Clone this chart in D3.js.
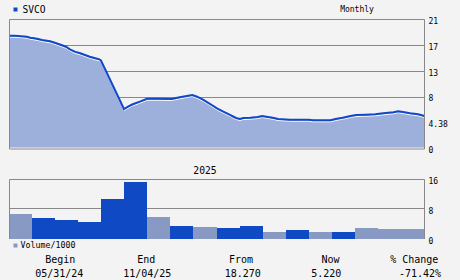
<!DOCTYPE html>
<html><head><meta charset="utf-8">
<script src="https://cdn.jsdelivr.net/npm/d3@7"></script>
<style>
html,body{margin:0;padding:0;background:#f3f3f3;}
svg{display:block;}
text{font-family:"DejaVu Sans Mono",monospace;fill:#000;}
</style></head><body>
<svg id="c" width="460" height="280"></svg>
<script>
// ---- data ----
const symbol = "SVCO";
const priceDates = ["2024-05-31","2024-06-07","2024-06-22","2024-06-26","2024-07-01","2024-07-06","2024-07-11","2024-07-21","2024-07-27","2024-08-05","2024-08-10","2024-08-15","2024-08-21","2024-08-28","2024-09-03","2024-09-09","2024-09-16","2024-09-21","2024-09-23","2024-10-22","2024-10-27","2024-11-02","2024-11-11","2024-11-20","2024-12-04","2024-12-21","2024-12-31","2025-01-09","2025-01-16","2025-01-22","2025-01-30","2025-02-08","2025-02-16","2025-02-24","2025-03-05","2025-03-07","2025-03-12","2025-03-17","2025-03-21","2025-03-30","2025-04-08","2025-04-14","2025-04-19","2025-04-27","2025-05-04","2025-05-19","2025-06-11","2025-06-17","2025-07-09","2025-07-15","2025-07-24","2025-08-03","2025-08-10","2025-08-22","2025-09-03","2025-09-13","2025-09-26","2025-10-02","2025-10-08","2025-10-17","2025-10-27","2025-11-04"];
const prices = [18.36,18.36,18.2,18.04,17.94,17.83,17.66,17.45,17.22,16.8,16.57,16.15,15.76,15.5,15.22,14.94,14.68,14.52,14.33,6.43,6.8,7.2,7.62,8.1,8.1,8.06,8.33,8.55,8.71,8.43,7.9,7.2,6.54,5.99,5.45,5.29,4.97,4.8,4.97,5.01,5.13,5.29,5.18,5.01,4.8,4.69,4.69,4.59,4.59,4.8,5.01,5.29,5.45,5.5,5.57,5.73,5.89,6.06,5.94,5.73,5.57,5.3];
const volMonths = ["May 24","Jun 24","Jul 24","Aug 24","Sep 24","Oct 24","Nov 24","Dec 24","Jan 25","Feb 25","Mar 25","Apr 25","May 25","Jun 25","Jul 25","Aug 25","Sep 25","Oct 25"];
const volumes = [6.65,5.57,5.0,4.5,10.7,15.3,5.85,3.4,3.15,2.9,3.4,1.8,2.35,1.8,1.8,2.9,2.6,2.6];
const volDir = ["down","up","up","up","up","up","down","up","down","up","up","down","up","down","up","down","down","down"];
const priceTicks = [0,4.2,8.4,12.6,16.8,21];
const priceTickLabels = ["0","4.38","8","13","17","21"];
const volTicks = [0,8,16];
const volTickLabels = ["0","8","16"];
const yearLabel = "2025";
const yearMonth = "Jan 25";
const footerHeads = ["Begin","End","From","Now","% Change"];
const footerVals = ["05/31/24","11/04/25","18.270","5.220","-71.42%"];

// ---- layout ----
const svg = d3.select("#c");
const L = 9.5, R = 424.5;
const pTop = 19.5, pBot = 148.5;
const vTop = 179.5, vBot = 238.5;
const parse = d3.timeParse("%Y-%m-%d");
const pts = priceDates.map((d,i)=>({d:parse(d), v:prices[i]}));

const x = d3.scaleTime().domain(d3.extent(pts, p=>p.d)).range([L, R]);
const y = d3.scaleLinear().domain([0,21]).range([pBot, pTop]);
const xb = d3.scaleBand().domain(volMonths).range([9, 424]).padding(0);
const yv = d3.scaleLinear().domain([0,16]).range([239, 179]);

// gridlines price
svg.append("g").selectAll("line").data(priceTicks.filter(t=>t>0&&t<21)).join("line")
  .attr("x1",L).attr("x2",R).attr("y1",d=>Math.round(y(d))+0.5).attr("y2",d=>Math.round(y(d))+0.5)
  .attr("stroke","#888").attr("stroke-width",1);

// area
const area = d3.area().x(p=>x(p.d)).y0(pBot-1).y1(p=>y(p.v));
svg.append("path").datum(pts).attr("d",area).attr("fill","#9db0dc");
const lineW = d3.line().x(p=>x(p.d)).y(p=>y(p.v)+1.5);
svg.append("path").datum(pts).attr("d",lineW).attr("fill","none").attr("stroke","#ffffff").attr("stroke-width",1);
const line = d3.line().x(p=>x(p.d)).y(p=>y(p.v));
svg.append("path").datum(pts).attr("d",line).attr("fill","none").attr("stroke","#1048c8").attr("stroke-width",2);

// price frame
svg.append("path").attr("d",`M${L},${pBot+0.5}V${pTop}H${R}V${pBot+0.5}H${L}`)
  .attr("fill","none").attr("stroke","#888").attr("stroke-width",1);

// price axis labels
const pa = d3.axisRight(y).tickValues(priceTicks).tickSize(0).tickPadding(4)
  .tickFormat((d,i)=>priceTickLabels[i]);
svg.append("g").attr("transform",`translate(${R},1.5)`).call(pa)
  .call(g=>g.select(".domain").remove())
  .selectAll("text").style("font-family","DejaVu Sans Mono").style("font-size","8px").attr("fill","#000");

// titles
svg.append("rect").attr("x",13.5).attr("y",7.5).attr("width",4).attr("height",4).attr("fill","#1048c8");
svg.append("text").attr("x",22.5).attr("y",13).style("font-size","9.6px").text(symbol);
svg.append("text").attr("x",357).attr("y",12).attr("text-anchor","middle").style("font-size","8px").text("Monthly");

// volume gridline
svg.append("g").selectAll("line").data(volTicks.filter(t=>t>0&&t<16)).join("line")
  .attr("x1",L).attr("x2",R).attr("y1",d=>Math.round(yv(d))-0.5).attr("y2",d=>Math.round(yv(d))-0.5)
  .attr("stroke","#888");

// volume bars
svg.append("g").attr("shape-rendering","crispEdges").selectAll("rect").data(volumes).join("rect")
  .attr("x",(d,i)=>Math.round(xb(volMonths[i])))
  .attr("width",(d,i)=>Math.round(xb(volMonths[i])+xb.bandwidth())-Math.round(xb(volMonths[i])))
  .attr("y",d=>Math.round(yv(d))).attr("height",d=>239-Math.round(yv(d)))
  .attr("fill",(d,i)=>volDir[i]==="up"?"#1049c4":"#8899c4");

// volume frame
svg.append("path").attr("d",`M${L},${vBot+0.5}V${vTop}H${R}V${vBot+0.5}`)
  .attr("fill","none").attr("stroke","#888").attr("stroke-width",1);

const va = d3.axisRight(yv).tickValues(volTicks).tickSize(0).tickPadding(4)
  .tickFormat((d,i)=>volTickLabels[i]);
svg.append("g").attr("transform",`translate(${R},1.5)`).call(va)
  .call(g=>g.select(".domain").remove())
  .selectAll("text").style("font-family","DejaVu Sans Mono").style("font-size","8px").attr("fill","#000");

// year label
svg.append("text").attr("x",xb(yearMonth)+xb.bandwidth()/2).attr("y",173.5).attr("text-anchor","middle")
  .style("font-size","9.7px").text(yearLabel);

// volume legend
svg.append("rect").attr("x",13.5).attr("y",243.5).attr("width",4).attr("height",4).attr("fill","#8899c4");
svg.append("text").attr("x",20.5).attr("y",248.3).style("font-size","8.3px").text("Volume/1000");

// footer
const headX = [60.3,146.3,241,330.5,414.3];
const valX = [59.3,147.3,242.7,326.3,420];
svg.append("g").selectAll("text").data(footerHeads).join("text")
  .attr("x",(d,i)=>headX[i]).attr("y",263).attr("text-anchor","middle").style("font-size","10px").text(d=>d);
svg.append("g").selectAll("text").data(footerVals).join("text")
  .attr("x",(d,i)=>valX[i]).attr("y",277).attr("text-anchor","middle").style("font-size","10px").text(d=>d);
</script>
</body></html>
